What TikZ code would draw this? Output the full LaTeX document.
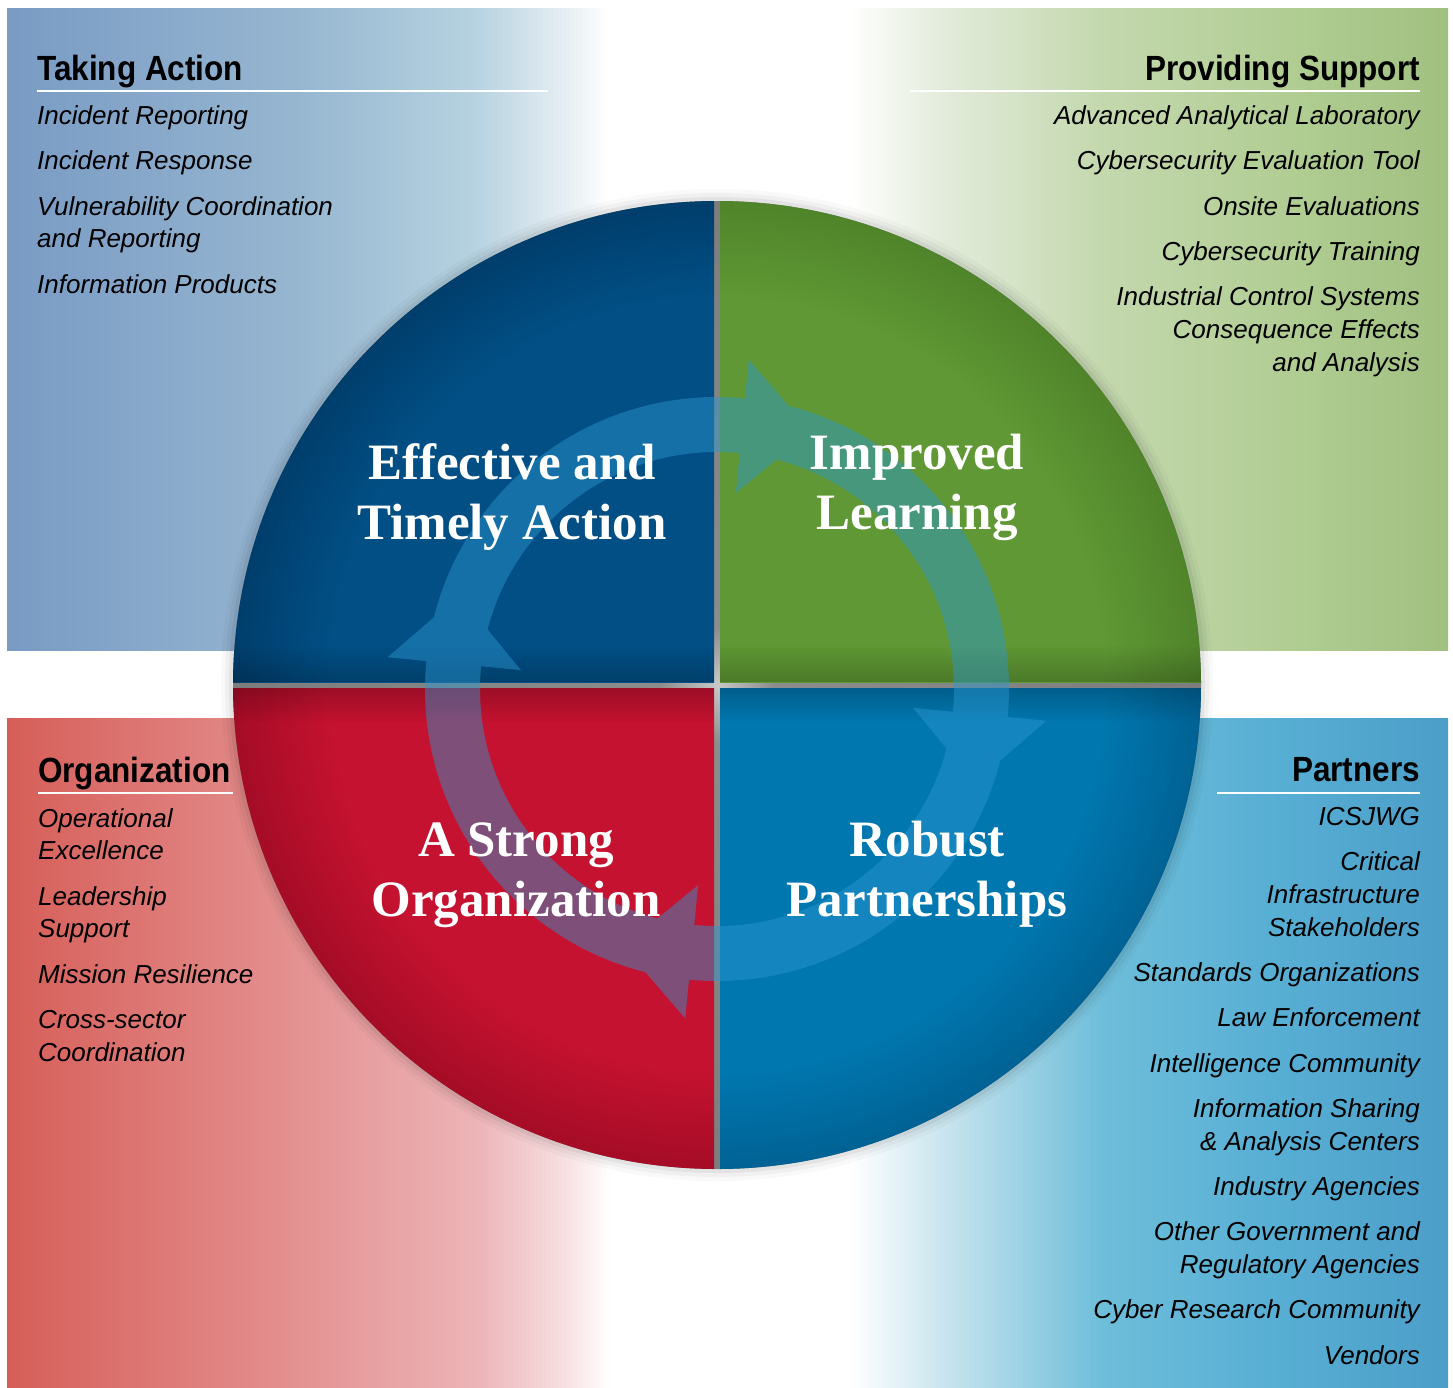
\documentclass[tikz,border=0pt]{standalone}
\usepackage{fontspec}
\setmainfont{Liberation Serif}
\newfontfamily\listfont{Liberation Sans}
\newfontfamily\headfont[FakeStretch=0.9]{Liberation Sans}
\usetikzlibrary{positioning}
\usetikzlibrary{fadings}

\definecolor{tlA}{RGB}{121,155,196}
\definecolor{tlB}{RGB}{150,182,208}
\definecolor{tlC}{RGB}{183,211,225}
\definecolor{tlD}{RGB}{228,237,242}
\definecolor{trA}{RGB}{226,235,218}
\definecolor{trB}{RGB}{196,216,174}
\definecolor{trC}{RGB}{175,204,145}
\definecolor{trD}{RGB}{160,192,128}
\definecolor{blA}{RGB}{214,94,88}
\definecolor{blB}{RGB}{228,145,145}
\definecolor{blC}{RGB}{236,180,183}
\definecolor{blD}{RGB}{246,222,224}
\definecolor{brA}{RGB}{200,228,238}
\definecolor{brB}{RGB}{110,190,218}
\definecolor{brC}{RGB}{88,175,212}
\definecolor{brD}{RGB}{75,158,200}
\definecolor{tlq}{RGB}{1,79,133}
\definecolor{tlqd}{RGB}{0,62,108}
\definecolor{trq}{RGB}{95,152,52}
\definecolor{trqd}{RGB}{80,132,42}
\definecolor{blq}{RGB}{196,18,48}
\definecolor{blqd}{RGB}{165,12,38}
\definecolor{brq}{RGB}{0,119,175}
\definecolor{brqd}{RGB}{0,98,148}
\definecolor{gapin}{RGB}{200,200,200}
\definecolor{gapmid}{RGB}{140,140,140}
\definecolor{gapout}{RGB}{125,125,125}
\definecolor{cycleblue}{RGB}{44,151,209}

\pgfdeclarehorizontalshading{tlfade}{100bp}{color(0bp)=(tlA); color(25bp)=(tlA); color(49bp)=(tlB); color(64bp)=(tlC); color(71bp)=(tlD); color(75bp)=(white); color(100bp)=(white)}
\pgfdeclarehorizontalshading{trfade}{100bp}{color(0bp)=(white); color(25bp)=(white); color(33bp)=(trA); color(46bp)=(trB); color(63bp)=(trC); color(75bp)=(trD); color(100bp)=(trD)}
\pgfdeclarehorizontalshading{blfade}{100bp}{color(0bp)=(blA); color(25bp)=(blA); color(49bp)=(blB); color(64bp)=(blC); color(71bp)=(blD); color(75bp)=(white); color(100bp)=(white)}
\pgfdeclarehorizontalshading{brfade}{100bp}{color(0bp)=(white); color(25bp)=(white); color(33bp)=(brA); color(46bp)=(brB); color(60bp)=(brC); color(75bp)=(brD); color(100bp)=(brD)}
\pgfdeclareradialshading{tlball}{\pgfpoint{0bp}{0bp}}{color(0bp)=(tlq); color(20bp)=(tlq); color(25bp)=(tlqd); color(50bp)=(tlqd)}
\pgfdeclareradialshading{trball}{\pgfpoint{0bp}{0bp}}{color(0bp)=(trq); color(20bp)=(trq); color(25bp)=(trqd); color(50bp)=(trqd)}
\pgfdeclareradialshading{blball}{\pgfpoint{0bp}{0bp}}{color(0bp)=(blq); color(20bp)=(blq); color(25bp)=(blqd); color(50bp)=(blqd)}
\pgfdeclareradialshading{brball}{\pgfpoint{0bp}{0bp}}{color(0bp)=(brq); color(20bp)=(brq); color(25bp)=(brqd); color(50bp)=(brqd)}
\pgfdeclareradialshading{gapball}{\pgfpoint{0bp}{0bp}}{color(0bp)=(gapin); color(3bp)=(gapmid); color(25bp)=(gapout); color(50bp)=(gapout)}

\tikzset{
  item/.style={font=\listfont\itshape\fontsize{26}{30}\selectfont, inner sep=0pt},
  heading/.style={font=\headfont\bfseries\fontsize{35}{40}\selectfont, inner sep=0pt},
  rule/.style={white, line width=2.5pt},
  quadtitle/.style={text=white, align=center, inner sep=0pt, font=\bfseries\fontsize{51}{60}\selectfont},
  band/.style={black, opacity=0.2}
}

\begin{document}
\begin{tikzpicture}[x=1pt, y=-1pt]
    \useasboundingbox[fill=white] (0,0) rectangle (1453,1387);
    \shade[shading=tlfade] (7,8) rectangle (610,650);
    \shade[shading=trfade] (850,8) rectangle (1448,650);
    \shade[shading=blfade] (7,718) rectangle (610,1387);
    \shade[shading=brfade] (850,718) rectangle (1448,1387);

    \coordinate (ctr) at (717,685);
    \coordinate (hub) at (717,689);
    \foreach \r/\op in {496/0.025, 492/0.035, 488/0.05}
        \fill[black, opacity=\op] (ctr) circle (\r);
    \shade[shading=gapball] (ctr) circle (484);

    \begin{scope}
        \clip (ctr) circle (484);
        \begin{scope}
            \clip (200,190) rectangle (714,682);
            \shade[shading=tlball] (ctr) circle (484);
            \fill[band, path fading=north] (200,645) rectangle (714,682);
        \end{scope}
        \begin{scope}
            \clip (720,190) rectangle (1210,682);
            \shade[shading=trball] (ctr) circle (484);
            \fill[band, path fading=north] (720,645) rectangle (1210,682);
        \end{scope}
        \begin{scope}
            \clip (200,688) rectangle (714,1180);
            \shade[shading=blball] (ctr) circle (484);
            \fill[band, path fading=south] (200,688) rectangle (714,722);
        \end{scope}
        \begin{scope}
            \clip (720,688) rectangle (1210,1180);
            \shade[shading=brball] (ctr) circle (484);
            \fill[band, path fading=south] (720,688) rectangle (1210,722);
        \end{scope}
    \end{scope}

    \begin{scope}[shift={(hub)}, yscale=-1, transparency group, opacity=0.46]
        \fill[cycleblue, even odd rule] (0,0) circle (292) (0,0) circle (237);
        \foreach \b in {84.5,-5.5,-95.5,174.5}
            \fill[cycleblue] (\b:197) -- (\b:331) -- (\b-14.5:274) -- cycle;
    \end{scope}

    \node[quadtitle] (action) at (512,497) {Effective and\\Timely Action};
    \node[quadtitle] (learning) at (917,487) {Improved\\Learning};
    \node[quadtitle] (strong) at (516,875) {A Strong\\Organization};
    \node[quadtitle] (partners) at (927,874) {Robust\\Partnerships};

    \node[heading, anchor=base west] (takehd) at (37,80) {Taking Action};
    \draw[rule] (37,91) -- (548,91);
    \foreach \yy/\txt [count=\i] in {124/Incident Reporting, 169/Incident Response,
        215/Vulnerability Coordination, 247/and Reporting, 293/Information Products}
        \node[item, anchor=base west] (take\i) at (37,\yy) {\txt};

    \node[heading, anchor=base east] (supphd) at (1420,80) {Providing Support};
    \draw[rule] (910,91) -- (1420,91);
    \foreach \yy/\txt [count=\i] in {124/Advanced Analytical Laboratory, 169/Cybersecurity Evaluation Tool,
        215/Onsite Evaluations, 260/Cybersecurity Training, 305/Industrial Control Systems,
        338/Consequence Effects, 371/and Analysis}
        \node[item, anchor=base east] (supp\i) at (1420,\yy) {\txt};

    \node[heading, anchor=base west] (orghd) at (38,782) {Organization};
    \draw[rule] (38,793) -- (233,793);
    \foreach \yy/\txt [count=\i] in {827/Operational, 859/Excellence, 905/Leadership, 937/Support,
        983/Mission Resilience, 1028/Cross-sector, 1061/Coordination}
        \node[item, anchor=base west] (org\i) at (38,\yy) {\txt};

    \node[heading, anchor=base east] (parthd) at (1420,781) {Partners};
    \draw[rule] (1217,793) -- (1420,793);
    \foreach \yy/\txt [count=\i] in {825/ICSJWG, 870/Critical, 903/Infrastructure, 936/Stakeholders,
        981/Standards Organizations, 1026/Law Enforcement, 1072/Intelligence Community,
        1117/Information Sharing, 1150/\& Analysis Centers, 1195/Industry Agencies,
        1240/Other Government and, 1273/Regulatory Agencies, 1318/Cyber Research Community, 1364/Vendors}
        \node[item, anchor=base east] (part\i) at (1420,\yy) {\txt};
\end{tikzpicture}
\end{document}
